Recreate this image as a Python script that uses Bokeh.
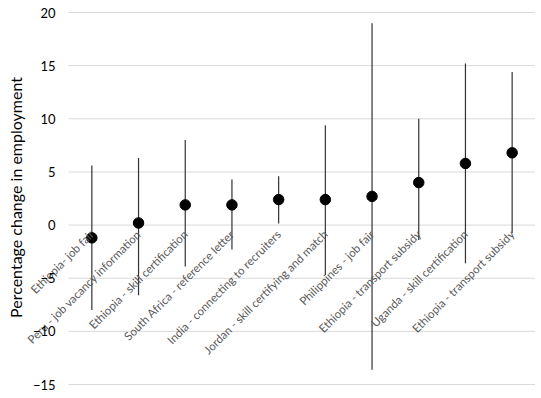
import math
from bokeh.plotting import figure
from bokeh.models import ColumnDataSource, FixedTicker, Range1d
from bokeh.embed import file_html
from bokeh.resources import INLINE

labels = [
    "Ethiopia- job fair",
    "Peru - job vacancy information",
    "Ethiopia - skill certification",
    "South Africa - reference letter",
    "India - connecting to recruiters",
    "Jordan - skill certifying and match",
    "Philippines - job fair",
    "Ethiopia - transport subsidy",
    "Uganda - skill certification",
    "Ethiopia - transport subsidy",
]
estimate = [-1.2, 0.2, 1.9, 1.9, 2.4, 2.4, 2.7, 4.0, 5.8, 6.8]
upper = [5.6, 6.3, 8.0, 4.3, 4.6, 9.4, 19.0, 10.0, 15.2, 14.4]
lower = [-8.0, -6.6, -3.9, -2.3, 0.15, -4.7, -13.6, -1.4, -3.6, -0.75]
y_ticks = [-15, -10, -5, 0, 5, 10, 15, 20]

n = len(labels)
pos = list(range(1, n + 1))
src = ColumnDataSource(dict(x=pos, est=estimate, up=upper, lo=lower))
grid_src = ColumnDataSource(dict(x0=[0.5] * len(y_ticks), x1=[n + 0.5] * len(y_ticks), y=y_ticks))

# frame covers the whole canvas; left part holds the y axis and the slanted labels
p = figure(width=535, height=394, output_backend="svg", toolbar_location=None,
           x_range=Range1d(-0.956, n + 0.5), y_range=Range1d(-15.94, 21.13),
           min_border_left=0, min_border_top=0, min_border_bottom=0, min_border_right=0)
p.outline_line_color = None
p.background_fill_color = "white"
p.border_fill_color = "white"
p.xgrid.grid_line_color = None
p.ygrid.grid_line_color = None

# horizontal gridlines at the y ticks, spanning the category area only
p.segment(x0="x0", y0="y", x1="x1", y1="y", source=grid_src, line_color="#d9d9d9", line_width=1)

# category axis sits on the zero line
p.xaxis.fixed_location = 0
p.xaxis.ticker = FixedTicker(ticks=pos)
p.xaxis.major_label_overrides = {i: lab for i, lab in zip(pos, labels)}
p.xaxis.major_label_orientation = math.pi / 4
p.xaxis.axis_line_color = None
p.xaxis.major_tick_line_color = None
p.xaxis.minor_tick_line_color = None
p.xaxis.major_tick_out = 0
p.xaxis.major_tick_in = 0
p.xaxis.major_label_standoff = 7
p.xaxis.major_label_text_font = "Lato"
p.xaxis.major_label_text_font_size = "11.5px"
p.xaxis.major_label_text_color = "#595959"

# value axis sits at the left edge of the category area
p.yaxis.fixed_location = 0.5
p.yaxis.ticker = FixedTicker(ticks=y_ticks)
p.yaxis.axis_line_color = None
p.yaxis.major_tick_line_color = None
p.yaxis.minor_tick_line_color = None
p.yaxis.major_tick_out = 0
p.yaxis.major_tick_in = 0
p.yaxis.major_label_text_font = "Lato"
p.yaxis.major_label_text_font_size = "13px"
p.yaxis.major_label_text_color = "black"
p.yaxis.major_label_standoff = 13
p.yaxis.axis_label = "Percentage change in employment"
p.yaxis.axis_label_text_font = "Lato"
p.yaxis.axis_label_text_font_size = "16px"
p.yaxis.axis_label_text_font_style = "normal"
p.yaxis.axis_label_text_color = "black"
p.yaxis.axis_label_standoff = 5

p.segment(x0="x", y0="lo", x1="x", y1="up", source=src, line_color="#333333", line_width=1.2)
p.scatter(x="x", y="est", source=src, size=10.5, color="black")

open("out.html", "w").write(file_html(p, INLINE))
